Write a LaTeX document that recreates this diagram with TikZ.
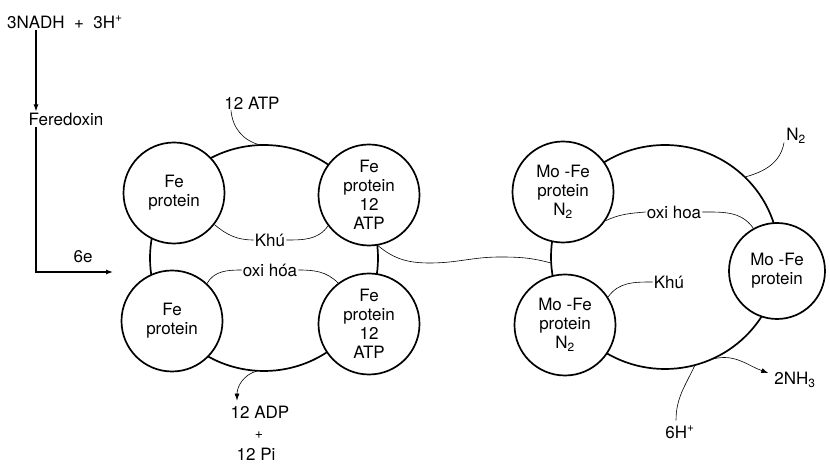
\documentclass[tikz,border=0pt]{standalone}
\usepackage{fontspec}
\setmainfont{TeX Gyre Heros}
\usetikzlibrary{arrows.meta,positioning}

\tikzset{
  protein/.style={circle,draw,line width=1.7pt,fill=white,minimum size=101pt,inner sep=0pt,align=center},
  link/.style={line width=0.6pt},
  tip/.style={-{Latex[length=7pt,width=5pt]}},
  lbl/.style={inner sep=1pt},
}

\begin{document}
\begin{tikzpicture}[x=1pt,y=1pt,font=\fontsize{17}{19}\selectfont]
\useasboundingbox (0,0) rectangle (830,465);

% electron supply
\node (nadh) at (6,443)[anchor=west,lbl]{3NADH\ \ +\ \ 3H\textsuperscript{+}};
\node (fer) at (66,346)[lbl]{Feredoxin};
\coordinate (kink) at (36,193);
\coordinate (e6end) at (113,193);
\draw[tip,line width=1.2pt] (nadh.south -| kink) -- (fer.north -| kink);
\draw[tip,line width=1.2pt] (fer.south -| kink) -- (kink) -- (e6end);
\node (e6) at (83,208)[lbl]{6e};

% Fe protein side
\draw[line width=1.7pt] (264,207) ellipse [x radius=114,y radius=113];
\node (feA) at (174,272)[protein]{Fe\\protein};
\node (feB) at (369,270)[protein]{Fe\\protein\\12\\ATP};
\node (feC) at (172,144)[protein]{Fe\\protein};
\node (feD) at (369,141)[protein]{Fe\\protein\\12\\ATP};

\node (atp) at (252,362)[lbl]{12 ATP};
\coordinate (atpIn) at (260,320);
\draw[link] ([xshift=-21pt]atp.south) to[out=-85,in=165] (atpIn);

\node (khuA) at (270,225)[lbl]{Khú};
\draw[link] (feA.-38) to[out=-40,in=180] (khuA.west);
\draw[link] (khuA.east) to[out=0,in=-125] (feB.217);

\node (oxiA) at (270,195)[lbl]{oxi hóa};
\draw[link] (feC.47) to[out=60,in=180] (oxiA.west);
\draw[link] (oxiA.east) to[out=0,in=135] (feD.127);

\coordinate (adpOut) at (257,94);
\node (adp) at (260,53)[lbl]{12 ADP};
\node (plus) at (259,30)[lbl,font=\fontsize{14}{16}\selectfont]{+};
\node (pi) at (256,11)[lbl]{12 Pi};
\draw[link,tip] (adpOut) to[out=195,in=90] ([xshift=-23pt,yshift=4pt]adp.north);

% link between the two
\coordinate (waveEnd) at (551,202);
\draw[link] (feB.-80) to[out=-40,in=180] (430,202) to[out=0,in=180] (500,208) to[out=0,in=165] (waveEnd);

% Mo-Fe protein side
\draw[line width=1.7pt] (665,208) ellipse [x radius=114,y radius=112];
\node (mofeA) at (563,273)[protein]{Mo -Fe\\protein\\N\textsubscript{2}};
\node (mofeB) at (565,140)[protein]{Mo -Fe\\protein\\N\textsubscript{2}};
\node (mofeC) at (777,194)[protein,minimum size=96pt]{Mo -Fe\\protein};

\node (n2) at (796,329)[lbl]{N\textsubscript{2}};
\coordinate (n2In) at (745,288);
\draw[link] ([xshift=-12pt,yshift=2pt]n2.south) to[out=-100,in=15] (n2In);

\node (oxiB) at (674,253)[lbl]{oxi hoa};
\draw[link] (mofeA.-34) to[out=25,in=185] (oxiB.west);
\draw[link] (oxiB.east) to[out=0,in=125] (mofeC.119);

\node (khuB) at (669,183)[lbl]{Khú};
\draw[link] (khuB.west) to[out=180,in=55] (mofeB.33);

\coordinate (nh3Out) at (713,106);
\node (nh3) at (795,85)[lbl]{2NH\textsubscript{3}};
\draw[link,tip] (nh3Out) to[out=15,in=160] ([xshift=-5pt,yshift=7pt]nh3.west);

\node (h6) at (680,33)[lbl]{6H\textsuperscript{+}};
\coordinate (h6In) at (695,100);
\draw[link] ([xshift=-4pt,yshift=4pt]h6.north) to[out=90,in=-115] (h6In);
\end{tikzpicture}
\end{document}
